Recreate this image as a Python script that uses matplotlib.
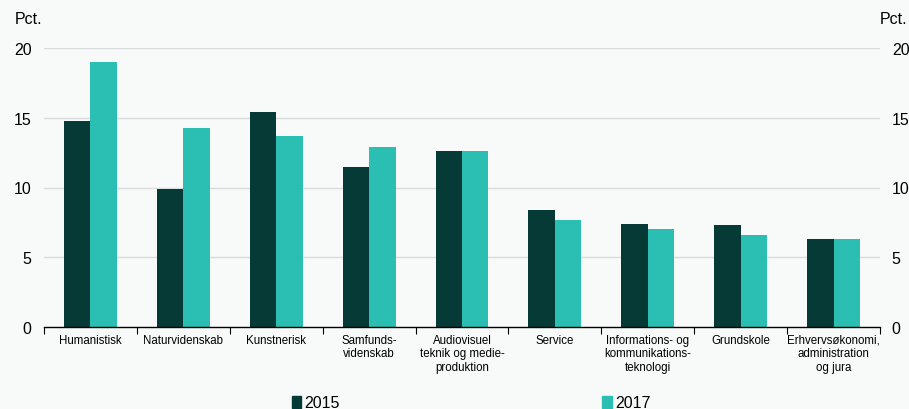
import numpy as np
import matplotlib
matplotlib.use("Agg")
from matplotlib import pyplot as plt
from matplotlib.patches import Patch

categories = ["Humanistisk", "Naturvidenskab", "Kunstnerisk", "Samfunds-\nvidenskab",
              "Audiovisuel\nteknik og medie-\nproduktion", "Service",
              "Informations- og\nkommunikations-\nteknologi", "Grundskole",
              "Erhvervsøkonomi,\nadministration\nog jura"]
v2015 = [14.8, 9.9, 15.4, 11.5, 12.6, 8.4, 7.4, 7.3, 6.3]
v2017 = [19.0, 14.3, 13.7, 12.9, 12.6, 7.7, 7.0, 6.6, 6.3]
yticks = [0, 5, 10, 15, 20]

c15 = "#063a36"
c17 = "#2bbfb3"
bg = "#f8f9f9"

plt.rcParams["font.family"] = ["Arial", "Liberation Sans", "DejaVu Sans"]

fig = plt.figure(figsize=(9.09, 4.10), dpi=100, facecolor=bg)
ax = fig.add_axes([44/909, 1-328/410, 836/909, 279/410], facecolor=bg)

x = np.arange(len(categories))
w = 0.285
ax.bar(x - w/2, v2015, w, color=c15, zorder=3)
ax.bar(x + w/2, v2017, w, color=c17, zorder=3)

ax.set_xlim(-0.5, len(categories) - 0.5)
ax.set_ylim(0, 20)
ax.set_yticks(yticks)
for t in yticks[1:]:
    ax.axhline(t, color="#d9dcdc", lw=1, zorder=1)
ax.tick_params(axis="y", length=0, labelsize=11.5, pad=9)

ax.set_xticks(x)
ax.set_xticklabels(categories, fontsize=8.3, linespacing=1.15)
ax.set_xticks(np.arange(len(categories) + 1) - 0.5, minor=True)
ax.tick_params(axis="x", which="major", length=0, pad=5)
ax.tick_params(axis="x", which="minor", length=5, width=0.8, color="black")

for s in ["top", "right", "left"]:
    ax.spines[s].set_visible(False)
ax.spines["bottom"].set_color("black")
ax.spines["bottom"].set_linewidth(1)
ax.spines["bottom"].set_zorder(4)

ax2 = ax.twinx()
ax2.set_ylim(0, 20)
ax2.set_yticks(yticks)
ax2.tick_params(axis="y", length=0, labelsize=11.5, pad=8.5)
for s in ax2.spines.values():
    s.set_visible(False)

fig.text(15/909, 1-20/410, "Pct.", fontsize=11.5, va="center", ha="left")
fig.text(907/909, 1-20/410, "Pct.", fontsize=11.5, va="center", ha="right")

handles = [Patch(color=c15, label="2015"), Patch(color=c17, label="2017")]
fig.legend(handles=handles, loc="center", bbox_to_anchor=(471/909, 1-404/410), ncol=2,
           frameon=False, fontsize=11.5, handlelength=0.6, handleheight=0.7,
           handletextpad=0.2, columnspacing=16.4, borderaxespad=0)

fig.savefig("out.png", dpi=100, facecolor=bg)
